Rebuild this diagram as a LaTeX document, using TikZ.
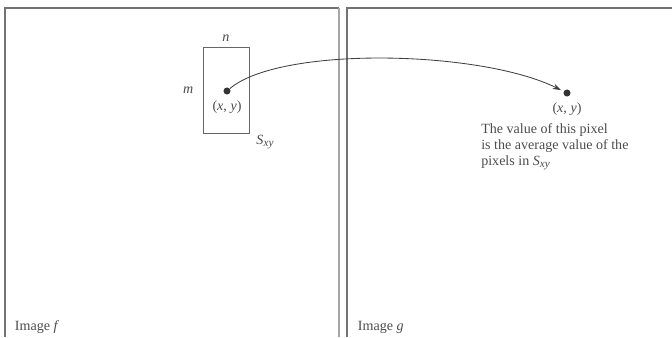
\documentclass[tikz,border=0pt]{standalone}
\usepackage{fontspec}
\setmainfont{Liberation Serif}
\usetikzlibrary{arrows.meta,positioning}

\begin{document}
\begin{tikzpicture}[x=0.025cm,y=-0.025cm,font=\fontsize{10}{11.4}\selectfont,
  txt/.style={text=black!70},
  frame/.style={draw=black!55,line width=0.8pt},
  win/.style={draw=black!60,line width=0.6pt,minimum width=1.15cm,minimum height=2.15cm,inner sep=0pt},
  dot/.style={circle,fill=black!80,inner sep=0pt,minimum size=5pt},
  arr/.style={-{Stealth[length=6pt,width=4pt]},draw=black!75,line width=0.6pt,shorten >=2pt}]
  \useasboundingbox (0,0) rectangle (672,337);
  % The two images, running off the bottom of the page.
  \draw[frame] (5,337) -- (5,8) -- (339,8);
  \draw[frame,draw=black!35] (339,8) -- (339,337);
  \draw[frame] (347,337) -- (347,8) -- (672,8);
  \node[txt,anchor=base west] (imf) at (10,330) {Image \textit{f}};
  \node[txt,anchor=base west] (img) at (353,330) {Image \textit{g}};
  % Neighbourhood S_xy round (x, y) in f.
  \node[win] (sxy) at (226,90) {};
  \node[txt,above=0pt of sxy] (n) {\textit{n}};
  \node[txt,left=3pt of sxy] (m) {\textit{m}};
  \node[txt] (s) at (265,142) {\textit{S}\raisebox{-0.4ex}{\footnotesize\textit{xy}}};
  \node[dot] (pf) at (227,91) {};
  \node[txt,below=1pt of pf] (pfl) {(\textit{x}, \textit{y})};
  % The same pixel in g.
  \node[dot] (pg) at (567,93) {};
  \node[txt,below=1pt of pg] (pgl) {(\textit{x}, \textit{y})};
  \node[txt,anchor=north west,align=left,inner sep=0pt] (note) at (481,123)
    {The value of this pixel\\is the average value of the\\pixels in \textit{S}\raisebox{-0.4ex}{\footnotesize\textit{xy}}};
  \draw[arr] (pf) .. controls (280,46) and (480,50) .. (pg);
\end{tikzpicture}
\end{document}
